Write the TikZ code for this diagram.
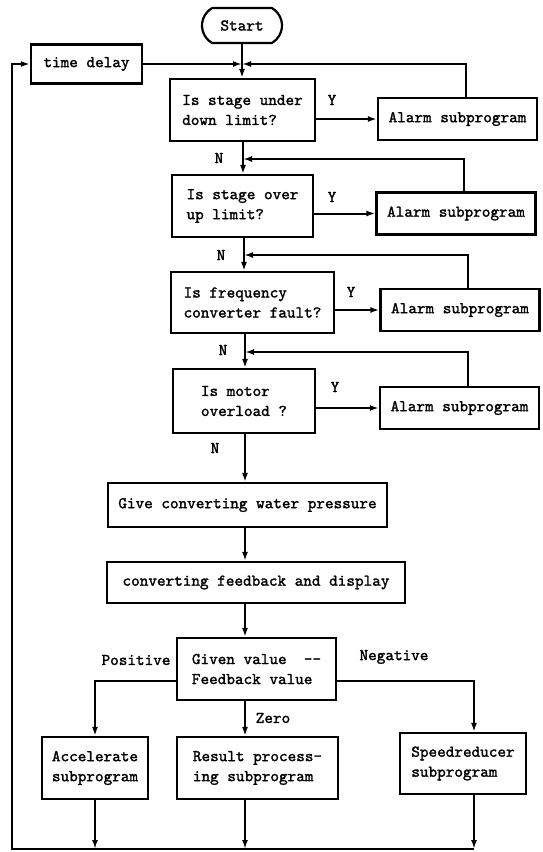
\documentclass[tikz,border=0pt]{standalone}
\usepackage{fontspec}
\newfontfamily\flowfont{lmmono10-regular.otf}[FakeBold=1.6]
\usetikzlibrary{arrows.meta,shapes.misc}

\begin{document}
\begin{tikzpicture}[
	x=1pt, y=-1pt,
	box/.style={
		draw, line width=2.2pt, rectangle,
		minimum height=62pt, align=left, inner sep=2pt,
		font=\flowfont\fontsize{16.4}{20}\selectfont
	},
	alarm/.style={box, minimum width=159pt, minimum height=42pt},
	edge/.style={-{Latex[length=9pt,width=6pt]}, line width=2pt},
	lbl/.style={font=\flowfont\fontsize{16.4}{20}\selectfont, inner sep=1pt},
	]
	\useasboundingbox (0,0) rectangle (543,852);
	
	\node[box, rounded rectangle, rounded rectangle arc length=120,
	minimum width=84pt, minimum height=35pt] (start) at (242,25.5) {Start};
	\node[box, minimum width=111pt, minimum height=39pt] (tdelay) at (86.5,64) {time delay};
	\node[box, minimum width=145pt] (q1) at (242.5,110) {Is stage under\\down limit?};
	\node[alarm] (a1) at (457.5,119) {Alarm subprogram};
	\node[box, minimum width=141pt] (q2) at (242.5,206) {Is stage over\\up limit?};
	\node[alarm] (a2) at (456,213.5) {Alarm subprogram};
	\node[box, minimum width=163pt, minimum height=61pt] (q3) at (252.5,302.5) {Is frequency\\converter fault?};
	\node[alarm] (a3) at (460,310) {Alarm subprogram};
	\node[box, minimum width=142pt, minimum height=64pt] (q4) at (244,401) {Is motor\\overload ?};
	\node[alarm] (a4) at (459.5,408) {Alarm subprogram};
	\node[box, minimum width=279pt, minimum height=44pt] (give) at (247.5,505) {Give converting water pressure};
	\node[box, minimum width=298pt, minimum height=41pt] (fdbk) at (256,582.5) {converting feedback and display};
	\node[box, minimum width=159pt] (cmp) at (256.5,669) {Given value\ \ ——\\Feedback value};
	\node[box, minimum width=106pt, align=center] (acc) at (95,768) {Accelerate\\subprogram};
	\node[box, minimum width=161pt] (res) at (257.5,768) {Result process-\\ing subprogram};
	\node[box, minimum width=126pt, minimum height=61pt] (spd) at (463,763.5) {Speedreducer\\subprogram};
	
	\coordinate (j1) at (242,64);
	\coordinate (j2) at (243,159);
	\coordinate (j3) at (244,255);
	\coordinate (j4) at (245,352);
	\coordinate (bl) at (12,849);
	\coordinate (br) at (474,849);
	
	\node[lbl] (y1) at (332,100) {Y};
	\node[lbl] (y2) at (332,197) {Y};
	\node[lbl] (y3) at (351,292) {Y};
	\node[lbl] (y4) at (335,387) {Y};
	\node[lbl] (n1) at (219,158) {N};
	\node[lbl] (n2) at (221,255) {N};
	\node[lbl] (n3) at (223,350) {N};
	\node[lbl] (n4) at (215,448) {N};
	\node[lbl] (pos) at (136,660) {Positive};
	\node[lbl] (neg) at (394,657) {Negative};
	\node[lbl] (zero) at (273,718) {Zero};
	
	\draw[edge] (start.south -| j1) -- (q1.north -| j1);
	\draw[edge] (tdelay) -- (j1);
	\draw[edge] ([xshift=8pt]a1.north) |- (j1);
	\draw[edge] (q1.east |- a1) -- (a1);
	\draw[edge] (q1.south -| j2) -- (q2.north -| j2);
	\draw[edge] ([xshift=8pt]a2.north) |- (j2);
	\draw[edge] (q2.east |- a2) -- (a2);
	\draw[edge] (q2.south -| j3) -- (q3.north -| j3);
	\draw[edge] ([xshift=8pt]a3.north) |- (j3);
	\draw[edge] (q3.east |- a3) -- (a3);
	\draw[edge] (q3.south -| j4) -- (q4.north -| j4);
	\draw[edge] ([xshift=8pt]a4.north) |- (j4);
	\draw[edge] (q4.east |- a4) -- (a4);
	\draw[edge] (q4.south -| j4) -- (give.north -| j4);
	\draw[edge] (give.south -| j4) -- (fdbk.north -| j4);
	\draw[edge] (fdbk.south -| j4) -- (cmp.north -| j4);
	\draw[edge] ([yshift=-12pt]cmp.west) -| (acc.north);
	\draw[edge] ([yshift=-12pt]cmp.east) -| (spd.north -| br);
	\draw[edge] (cmp.south -| j4) -- (res.north -| j4);
	\draw[edge] (acc) -- (acc |- bl);
	\draw[edge] (res.south -| j4) -- (bl -| j4);
	\draw[edge] (spd.south -| br) -- (br);
	\draw[edge] (br) -- (bl) |- (tdelay);
	
\end{tikzpicture}
\end{document}
